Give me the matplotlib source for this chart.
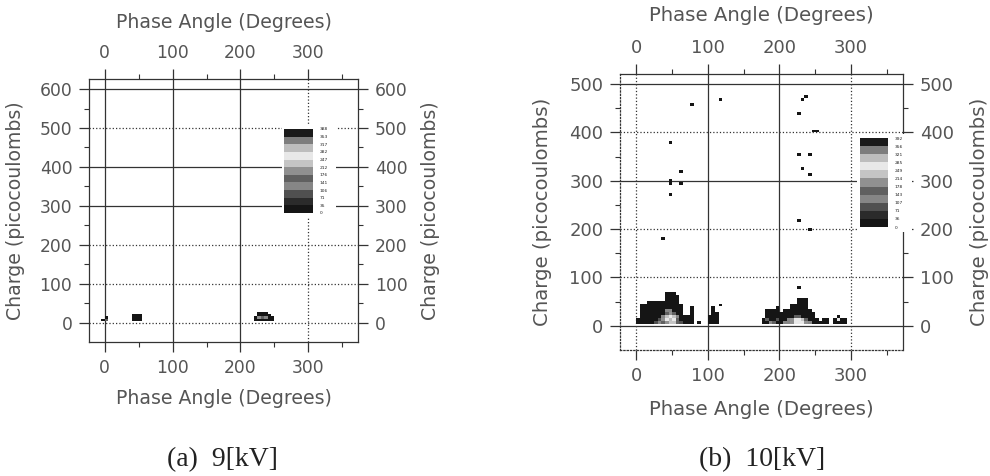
import numpy as np
import matplotlib
matplotlib.use("Agg")
import matplotlib.pyplot as plt
from matplotlib.colors import ListedColormap, BoundaryNorm
from matplotlib.patches import Rectangle

plt.rcParams['font.family'] = ['DejaVu Sans']

# 格子大小: 相位 5 度, 电荷 6 pC (从 4 pC 开始)
PH_STEP = 5
Q_STEP = 6
Q0 = 4

# ---- (a) 9 kV ----
a_col_phase = [-5, 0, 40, 45, 50, 220, 225, 230, 235, 240, 245]
a_col_top = [10, 16, 22, 22, 22, 16, 28, 28, 28, 22, 16]
a_hot_phase = [0, 225, 230, 235]
a_hot_row = [0, 1, 1, 1]
a_hot_count = [150, 200, 160, 120]
a_dot_phase = []
a_dot_charge = []
a_levels = [0, 35, 71, 106, 141, 176, 212, 247, 282, 317, 353, 388]

# ---- (b) 10 kV ----
b_col_phase = [0, 5, 10, 15, 20, 25, 30, 35, 40, 45, 50, 55, 60, 65, 70, 75,
               100, 105, 110,
               175, 180, 185, 190, 195, 200, 205, 210, 215, 220, 225, 230, 235,
               240, 245, 250, 255, 260, 265, 275, 280, 285, 290]
b_col_top = [18, 45, 48, 55, 50, 50, 50, 50, 72, 72, 72, 65, 45, 22, 22, 40,
             22, 38, 28,
             18, 32, 32, 32, 42, 25, 32, 32, 48, 48, 58, 58, 58,
             35, 25, 18, 10, 18, 18, 18, 22, 18, 18]
b_hot_phase = [25, 30, 30, 35, 35, 35, 40, 40, 40, 40, 40, 45, 45, 45, 45, 45, 50, 50, 50, 50,
               55, 55, 55, 60,
               180, 185, 190, 195, 205, 210, 210, 215, 215, 220, 220, 220, 225, 225, 225,
               230, 230, 235, 235, 240, 280]
b_hot_row = [0, 0, 1, 0, 1, 2, 0, 1, 2, 3, 4, 0, 1, 2, 3, 4, 0, 1, 2, 3,
             0, 1, 2, 0,
             1, 0, 0, 1, 0, 0, 1, 0, 1, 0, 1, 2, 0, 1, 2,
             0, 1, 0, 1, 0, 1]
b_hot_count = [90, 120, 100, 160, 190, 130, 210, 250, 220, 170, 110, 240, 290, 270, 200, 130,
               230, 260, 220, 150,
               170, 150, 110, 100,
               150, 120, 150, 100, 110, 140, 120, 200, 180, 250, 270, 150, 260, 280, 160,
               250, 230, 200, 170, 120, 280]
b_dot_phase = [87, 115, 77, 115, 238, 234, 229, 248, 253, 49, 229, 240, 234, 240,
               60, 49, 49, 60, 49, 229, 240, 38, 229]
b_dot_charge = [7, 42, 455, 470, 476, 470, 441, 402, 402, 379, 357, 357, 326, 310,
                319, 303, 296, 296, 272, 217, 201, 179, 79]
b_levels = [0, 36, 71, 107, 143, 178, 214, 249, 285, 321, 356, 392]

# 色条: 从下(0)到上(最大)
band_colors = ['#151515', '#2b2b2b', '#505050', '#868686', '#606060', '#909090',
               '#c4c4c4', '#e8e8e8', '#bdbdbd', '#7d7d7d', '#1a1a1a']
cmap = ListedColormap(band_colors)

ph_edges = np.arange(-25, 380, PH_STEP)
q_edges = np.arange(Q0, 640, Q_STEP)


def build_counts(col_phase, col_top, hot_phase, hot_row, hot_count, dot_phase, dot_charge):
    counts = np.zeros((len(q_edges) - 1, len(ph_edges) - 1))
    for p, top in zip(col_phase, col_top):
        i = int((p - ph_edges[0]) // PH_STEP)
        n = max(1, int(round((top - Q0) / Q_STEP)))
        counts[:n, i] = 12
    for p, r, c in zip(hot_phase, hot_row, hot_count):
        i = int((p - ph_edges[0]) // PH_STEP)
        counts[r, i] = c
    for p, q in zip(dot_phase, dot_charge):
        i = int((p - ph_edges[0]) // PH_STEP)
        j = int((q - Q0) // Q_STEP)
        counts[j, i] += 1
    return np.ma.masked_equal(counts, 0)


def style_axes(ax, ylim, ymax_tick, solid_h, solid_v, fs, lfs, spine_dotted):
    ax.set_xlim(-23, 373)
    ax.set_ylim(*ylim)
    ax.set_xticks([0, 100, 200, 300])
    ax.set_xticks([50, 150, 250, 350], minor=True)
    ax.set_yticks(np.arange(0, ymax_tick + 1, 100))
    ax.set_yticks(np.arange(50, ymax_tick, 100), minor=True)
    ax.tick_params(which='both', direction='out', top=True, right=True,
                   labeltop=True, labelright=True, colors='#333333',
                   labelcolor='#555555', labelsize=fs)
    ax.tick_params(which='major', length=7, width=0.9, pad=5)
    ax.tick_params(which='minor', length=3.5, width=0.8)
    for v in np.arange(0, ymax_tick + 1, 100):
        ls = '-' if v in solid_h else ':'
        ax.axhline(v, color='#333333', lw=0.9, ls=ls, zorder=0.5)
    for v in [0, 100, 200, 300]:
        ls = '-' if v in solid_v else ':'
        ax.axvline(v, color='#333333', lw=0.9, ls=ls, zorder=0.5)
    for name, sp in ax.spines.items():
        sp.set_color('#333333')
        sp.set_linewidth(0.9)
        if name in spine_dotted:
            sp.set_linestyle(':')
    lab = dict(color='#555555', fontsize=lfs, ha='center', va='center')
    ax.text(0.5, -0.215, 'Phase Angle (Degrees)', transform=ax.transAxes, **lab)
    ax.text(0.5, 1.213, 'Phase Angle (Degrees)', transform=ax.transAxes, **lab)
    ax.text(-0.274, 0.5, 'Charge (picocoulombs)', rotation=90, transform=ax.transAxes, **lab)
    ax.text(1.27, 0.5, 'Charge (picocoulombs)', rotation=90, transform=ax.transAxes, **lab)


fig = plt.figure(figsize=(9.9, 4.76), dpi=100)
W, H = 990, 476

axA = fig.add_axes([89 / W, 1 - 342 / H, 269 / W, 263 / H])
axB = fig.add_axes([620 / W, 1 - 350 / H, 283 / W, 276 / H])

style_axes(axA, (-50, 626), 600, solid_h=[600, 400, 300], solid_v=[0, 100, 200],
           fs=12.3, lfs=13.6, spine_dotted=[])
style_axes(axB, (-50, 521), 500, solid_h=[500, 300, 0], solid_v=[100, 200],
           fs=13, lfs=14.2, spine_dotted=['left', 'bottom'])

normA = BoundaryNorm(a_levels, cmap.N)
normB = BoundaryNorm(b_levels, cmap.N)
cA = build_counts(a_col_phase, a_col_top, a_hot_phase, a_hot_row, a_hot_count,
                  a_dot_phase, a_dot_charge)
cB = build_counts(b_col_phase, b_col_top, b_hot_phase, b_hot_row, b_hot_count,
                  b_dot_phase, b_dot_charge)
mA = axA.pcolormesh(ph_edges, q_edges, cA, cmap=cmap, norm=normA, zorder=2)
mB = axB.pcolormesh(ph_edges, q_edges, cB, cmap=cmap, norm=normB, zorder=2)

# 色条区域的白底
fig.patches.append(Rectangle((282 / W, 1 - 217 / H), 54 / W, 92 / H,
                             transform=fig.transFigure, facecolor='white',
                             edgecolor='none', zorder=1))
fig.patches.append(Rectangle((857 / W, 1 - 232 / H), 55 / W, 98 / H,
                             transform=fig.transFigure, facecolor='white',
                             edgecolor='none', zorder=1))

for m, rect, levels in [(mA, [284 / W, 1 - 213 / H, 29 / W, 84 / H], a_levels),
                        (mB, [860 / W, 1 - 227 / H, 28 / W, 89 / H], b_levels)]:
    cax = fig.add_axes(rect)
    cax.set_zorder(3)
    cb = fig.colorbar(m, cax=cax)
    cb.set_ticks(levels)
    cb.ax.tick_params(labelsize=3.2, length=0, pad=5, labelcolor='#222222')
    cb.outline.set_visible(False)

cap = dict(fontsize=20, ha='center', va='center', family='Liberation Serif', color='#222222')
fig.text(222 / W, 1 - 460 / H, '(a)  9[kV]', **cap)
fig.text(762 / W, 1 - 460 / H, '(b)  10[kV]', **cap)

fig.savefig('out.png', dpi=100, facecolor='white')
